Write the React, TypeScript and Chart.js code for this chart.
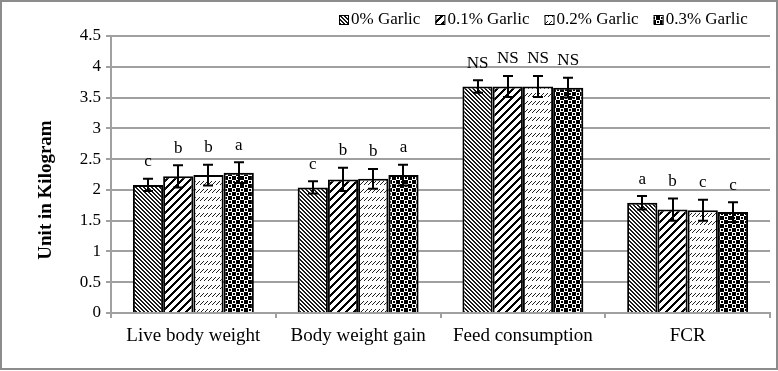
import React, { useEffect, useRef } from 'react';
import { Chart, registerables } from 'chart.js';

Chart.register(...registerables);

// ---------- data ----------
const categories = ['Live body weight', 'Body weight gain', 'Feed consumption', 'FCR'];
const seriesNames = ['0% Garlic', '0.1% Garlic', '0.2% Garlic', '0.3% Garlic'];

const garlic0 = [2.08, 2.04, 3.68, 1.79];
const garlic01 = [2.22, 2.17, 3.68, 1.68];
const garlic02 = [2.24, 2.18, 3.68, 1.67];
const garlic03 = [2.28, 2.24, 3.66, 1.64];

const err0 = [0.10, 0.10, 0.10, 0.11];
const err01 = [0.18, 0.19, 0.17, 0.18];
const err02 = [0.17, 0.16, 0.17, 0.17];
const err03 = [0.17, 0.17, 0.16, 0.16];

const letters0 = ['c', 'c', 'NS', 'a'];
const letters01 = ['b', 'b', 'NS', 'b'];
const letters02 = ['b', 'b', 'NS', 'c'];
const letters03 = ['a', 'a', 'NS', 'c'];

const yMin = 0;
const yMax = 4.5;
const yStep = 0.5;
const yTitle = 'Unit in Kilogram';

const FONT = '"Liberation Serif", "Times New Roman", serif';
const GRID = '#a0a0a0';

// ---------- patterns ----------
function pixelPattern(size: number, test: (x: number, y: number) => boolean, fg = '#000', bg = '#fff') {
  const c = document.createElement('canvas');
  c.width = size;
  c.height = size;
  const g = c.getContext('2d')!;
  g.fillStyle = bg;
  g.fillRect(0, 0, size, size);
  g.fillStyle = fg;
  for (let y = 0; y < size; y++) {
    for (let x = 0; x < size; x++) {
      if (test(x, y)) g.fillRect(x, y, 1, 1);
    }
  }
  const main = document.createElement('canvas').getContext('2d')!;
  return main.createPattern(c, 'repeat') as CanvasPattern;
}

function makePatterns() {
  const mod = (a: number, n: number) => ((a % n) + n) % n;
  // dense dark downward diagonal
  const p0 = pixelPattern(4, (x, y) => mod(x - y, 4) < 2, '#1a1a1a');
  // wide upward diagonal
  const p1 = pixelPattern(8, (x, y) => mod(x + y, 8) < 3);
  // dashed upward diagonal
  const p2 = pixelPattern(8, (x, y) => {
    const s = mod(x + y, 8);
    if (s === 0) return x < 4;
    if (s === 4) return x >= 4;
    return false;
  }, '#222');
  // dark checker with dots
  const p3 = pixelPattern(8, (x, y) => {
    const cx = Math.floor(x / 4);
    const cy = Math.floor(y / 4);
    if ((cx + cy) % 2 === 0) return true;
    const ix = x % 4;
    const iy = y % 4;
    return (ix === 1 || ix === 2) && (iy === 1 || iy === 2);
  });
  return [p0, p1, p2, p3];
}

// ---------- plugins ----------
const framePlugin = {
  id: 'frame',
  beforeDraw(chart: any) {
    const ctx = chart.ctx;
    ctx.save();
    ctx.fillStyle = '#fff';
    ctx.fillRect(0, 0, chart.width, chart.height);
    ctx.strokeStyle = '#8c8c8c';
    ctx.lineWidth = 2;
    ctx.strokeRect(1, 1, chart.width - 2, chart.height - 3);
    ctx.restore();
  },
};

const yTitlePlugin = {
  id: 'yTitle',
  afterDraw(chart: any, _args: any, opts: any) {
    const ctx = chart.ctx;
    ctx.save();
    ctx.translate(opts.x, opts.y);
    ctx.rotate(-Math.PI / 2);
    ctx.font = `bold 19px ${FONT}`;
    ctx.fillStyle = '#000';
    ctx.textAlign = 'center';
    ctx.textBaseline = 'middle';
    ctx.fillText(opts.text, 0, 0);
    ctx.restore();
  },
};

const errorBarPlugin = {
  id: 'errorBars',
  afterDatasetsDraw(chart: any, _args: any, opts: any) {
    const ctx = chart.ctx;
    const yScale = chart.scales.y;
    ctx.save();
    chart.data.datasets.forEach((ds: any, i: number) => {
      const meta = chart.getDatasetMeta(i);
      meta.data.forEach((bar: any, j: number) => {
        const v = ds.data[j];
        const e = ds.errors[j];
        const yTop = yScale.getPixelForValue(v + e);
        const yBot = yScale.getPixelForValue(v - e);
        const x = Math.round(bar.x);
        ctx.strokeStyle = '#000';
        ctx.lineWidth = 2;
        ctx.beginPath();
        ctx.moveTo(x, yTop);
        ctx.lineTo(x, yBot);
        ctx.moveTo(x - 5, yTop);
        ctx.lineTo(x + 5, yTop);
        ctx.moveTo(x - 5, yBot);
        ctx.lineTo(x + 5, yBot);
        ctx.stroke();
        ctx.fillStyle = '#000';
        ctx.font = `17px ${FONT}`;
        ctx.textAlign = 'center';
        ctx.textBaseline = 'middle';
        ctx.fillText(ds.letters[j], bar.x, yTop - opts.letterGap);
      });
    });
    ctx.restore();
  },
};

const legendPlugin = {
  id: 'patternLegend',
  afterDraw(chart: any, _args: any, opts: any) {
    const ctx = chart.ctx;
    ctx.save();
    ctx.font = `17px ${FONT}`;
    ctx.textBaseline = 'middle';
    ctx.textAlign = 'left';
    let x = opts.x;
    const y = opts.y;
    chart.data.datasets.forEach((ds: any) => {
      ctx.fillStyle = ds.backgroundColor;
      ctx.fillRect(x, y - 5, 9, 9);
      ctx.strokeStyle = '#000';
      ctx.lineWidth = 1;
      ctx.strokeRect(x + 0.5, y - 4.5, 9, 9);
      ctx.fillStyle = '#000';
      ctx.fillText(ds.label, x + 12, y);
      x += 12 + ctx.measureText(ds.label).width + opts.gap;
    });
    ctx.restore();
  },
};

export default function App() {
  const canvasRef = useRef<HTMLCanvasElement | null>(null);

  useEffect(() => {
    if (!canvasRef.current) return;
    const patterns = makePatterns();
    const values = [garlic0, garlic01, garlic02, garlic03];
    const errors = [err0, err01, err02, err03];
    const letters = [letters0, letters01, letters02, letters03];

    const chart = new Chart(canvasRef.current, {
      type: 'bar',
      data: {
        labels: categories,
        datasets: seriesNames.map((name, i) => ({
          label: name,
          data: values[i],
          errors: errors[i],
          letters: letters[i],
          backgroundColor: patterns[i],
          borderColor: '#000',
          borderWidth: 2,
          categoryPercentage: 0.734,
          barPercentage: 1,
        })) as any,
      },
      options: {
        responsive: false,
        animation: false,
        layout: { padding: { top: 36, right: 8, left: 0, bottom: 0 } },
        plugins: {
          legend: { display: false },
          tooltip: { enabled: false },
          patternLegend: { x: 339, y: 20, gap: 15 },
          errorBars: { letterGap: 17 },
          yTitle: { text: yTitle, x: 46, y: 190 },
        } as any,
        scales: {
          x: {
            grid: {
              offset: true,
              drawOnChartArea: false,
              drawTicks: true,
              tickLength: 5,
              color: GRID,
              lineWidth: 2,
            },
            border: { color: GRID, width: 2 },
            ticks: {
              color: '#000',
              font: { family: FONT, size: 19 },
              padding: 7,
              maxRotation: 0,
            },
            afterFit(scale: any) {
              scale.height = 58;
            },
          },
          y: {
            min: yMin,
            max: yMax,
            grid: { color: GRID, lineWidth: 2, tickLength: 5, drawTicks: true },
            border: { color: GRID, width: 2 },
            ticks: {
              stepSize: yStep,
              color: '#000',
              font: { family: FONT, size: 17 },
              padding: 5,
              callback: (v: any) => String(v),
            },
            title: { display: false, text: yTitle },
            afterFit(scale: any) {
              scale.width = 111;
            },
          },
        },
      },
      plugins: [framePlugin, errorBarPlugin, legendPlugin, yTitlePlugin],
    });
    return () => chart.destroy();
  }, []);

  return (
    <div style={{ position: 'absolute', left: 0, top: 0, width: 778, height: 371 }}>
      <canvas ref={canvasRef} width={778} height={371} style={{ display: 'block' }} />
    </div>
  );
}
